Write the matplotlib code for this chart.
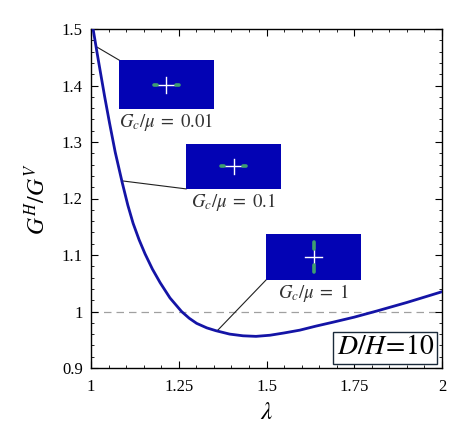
import matplotlib
matplotlib.use('Agg')
import matplotlib.pyplot as plt
from matplotlib.ticker import MultipleLocator, FixedLocator, FixedFormatter

plt.rcParams['font.family'] = ['Liberation Serif', 'DejaVu Serif']
plt.rcParams['mathtext.fontset'] = 'stix'

# Curve G^H/G^V against stretch lambda
lam = [1.0, 1.006, 1.017, 1.025, 1.039, 1.053, 1.069, 1.089, 1.105, 1.12,
       1.137, 1.154, 1.175, 1.197, 1.225, 1.258, 1.28, 1.301, 1.33, 1.356,
       1.395, 1.433, 1.47, 1.51, 1.55, 1.595, 1.64, 1.689, 1.75, 1.815,
       1.9, 2.0]
ratio = [1.523, 1.500, 1.459, 1.430, 1.380, 1.333, 1.282, 1.228, 1.188, 1.156,
         1.127, 1.102, 1.075, 1.051, 1.024, 1.000, 0.988, 0.979, 0.971, 0.966,
         0.960, 0.957, 0.956, 0.958, 0.962, 0.967, 0.974, 0.981, 0.990, 1.001,
         1.016, 1.035]

x_ticks = [1, 1.25, 1.5, 1.75, 2]
x_labels = ['1', '1.25', '1.5', '1.75', '2']
y_ticks = [0.9, 1.0, 1.1, 1.2, 1.3, 1.4, 1.5]
y_labels = ['0.9', '1', '1.1', '1.2', '1.3', '1.4', '1.5']

# Insets: label, point on curve, crack segments (in inset units)
inset_labels = [r'$G_c/\mu\;=\;0.01$', r'$G_c/\mu\;=\;0.1$', r'$G_c/\mu\;=\;1$']
inset_curve_pts = [(1.017, 1.468), (1.091, 1.231), (1.359, 0.9655)]
inset_cracks = [
    [([-0.26, -0.20], [0, 0]), ([0.20, 0.26], [0, 0])],
    [([-0.27, -0.21], [0, 0]), ([0.21, 0.27], [0, 0])],
    [([0, 0], [0.34, 0.66]), ([0, 0], [-0.36, -0.64])],
]

# inset boxes in data coordinates [x0, y0, w, h]
inset_boxes = [[1.08, 1.358, 0.27, 0.087],
               [1.271, 1.217, 0.27, 0.080],
               [1.499, 1.056, 0.27, 0.081]]
corner = ['top', 'bottom', 'bottom']

fig = plt.figure(figsize=(4.73, 4.30), dpi=100)
ax = fig.add_axes([91 / 473, 1 - 368 / 430, 351 / 473, 339 / 430])

ax.axhline(1.0, color='#a0a0a0', lw=0.9, ls=(0, (6, 4)), zorder=1)
ax.plot(lam, ratio, color='#1414a6', lw=2.0, zorder=3)

ax.set_xlim(1, 2)
ax.set_ylim(0.9, 1.5)
ax.xaxis.set_major_locator(FixedLocator(x_ticks))
ax.xaxis.set_major_formatter(FixedFormatter(x_labels))
ax.yaxis.set_major_locator(FixedLocator(y_ticks))
ax.yaxis.set_major_formatter(FixedFormatter(y_labels))
ax.xaxis.set_minor_locator(MultipleLocator(0.05))
ax.yaxis.set_minor_locator(MultipleLocator(0.02))
ax.tick_params(which='both', direction='in', top=True, right=True,
               labelsize=12, colors='black')
ax.tick_params(which='major', length=5, width=0.8)
ax.tick_params(which='minor', length=2.5, width=0.6)
ax.tick_params(axis='x', pad=8)
ax.tick_params(axis='y', pad=6)
for s in ax.spines.values():
    s.set_linewidth(1.0)

ax.set_xlabel(r'$\lambda$', fontsize=18, labelpad=5)
ax.set_ylabel(r'$G^H/G^V$', fontsize=17, labelpad=8)

for box, lab, pt, cracks, c in zip(inset_boxes, inset_labels, inset_curve_pts,
                                    inset_cracks, corner):
    ins = ax.inset_axes(box, transform=ax.transData, zorder=4)
    ins.set_facecolor('#0303b4')
    ins.set_xlim(-1, 1)
    ins.set_ylim(-1, 1)
    ins.set_xticks([])
    ins.set_yticks([])
    for s in ins.spines.values():
        s.set_visible(False)
    ins.plot([-0.17, 0.17], [0, 0], color='white', lw=1.0)
    ins.plot([0, 0], [-0.32, 0.32], color='white', lw=1.0)
    for cx, cy in cracks:
        ins.plot(cx, cy, color='#3f9f70', lw=2.6, solid_capstyle='round')
    cy0 = box[1] + box[3] if c == 'top' else box[1]
    ax.plot([pt[0], box[0]], [pt[1], cy0], color='#202020', lw=0.8, zorder=2)
    ax.text(box[0] + box[2] / 2, box[1] - 0.004, lab, ha='center', va='top',
            fontsize=13.5, color='#333333')

ax.text(1.839, 0.9354, r'$D/H\!=\!10$', ha='center', va='center', fontsize=20,
        bbox=dict(boxstyle='square,pad=0.12', fc='white', ec='#1a2a3a', lw=1.0),
        zorder=5)

fig.savefig('out.png', dpi=100)
